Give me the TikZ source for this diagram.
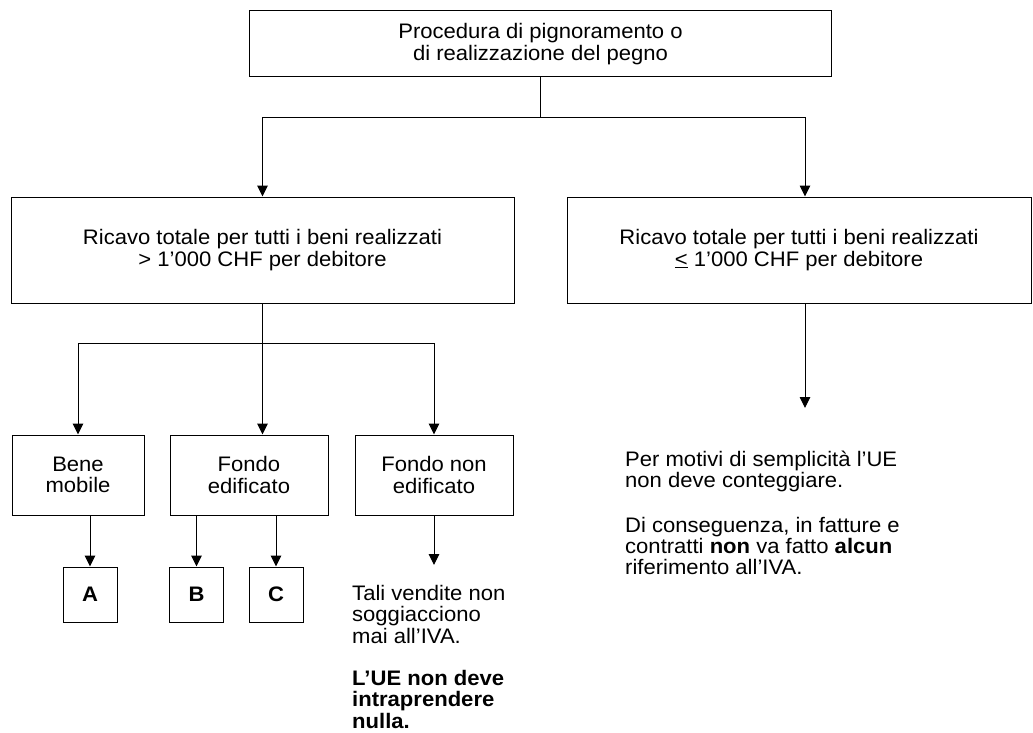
\documentclass[tikz,border=0pt]{standalone}
\usepackage{fontspec}
\setmainfont{Liberation Sans}[FakeStretch=1.05]
\usetikzlibrary{arrows.meta}

\begin{document}
\begin{tikzpicture}[x=1pt,y=-1pt,
    font=\fontsize{21}{21.3}\selectfont,
    box/.style={draw, line width=1pt, inner sep=0pt, align=center},
    letbox/.style={box, minimum width=54pt, minimum height=55pt, font=\fontsize{21}{21.3}\selectfont\bfseries},
    note/.style={inner sep=0pt, align=left, anchor=north west},
    arr/.style={line width=1pt, -{Triangle[width=10.5pt,length=11pt]}},
    lin/.style={line width=1pt}]
  \useasboundingbox (0,0) rectangle (1033,733);

  % top box
  \node[box, minimum width=582pt, minimum height=66pt] (proc) at (540.5,44)
    {Procedura di pignoramento o\\di realizzazione del pegno};

  % the two totals
  \node[box, minimum width=503pt, minimum height=106pt] (more) at (262.5,250)
    {Ricavo totale per tutti i beni realizzati\\> 1’000 CHF per debitore};
  \node[box, minimum width=464pt, minimum height=106pt] (less) at (799,250)
    {Ricavo totale per tutti i beni realizzati\\\underline{<} 1’000 CHF per debitore};

  % kinds of goods
  \node[box, minimum width=132pt, minimum height=80pt] (mob) at (78,475) {Bene\\mobile};
  \node[box, minimum width=158pt, minimum height=80pt] (edi) at (249,475) {Fondo\\edificato};
  \node[box, minimum width=158pt, minimum height=80pt] (ned) at (434,475) {Fondo non\\edificato};

  % letter boxes
  \foreach \n/\x in {A/90,B/196.5,C/276}
    \node[letbox] (\n) at (\x,594.5) {\n};

  % notes
  \node[note] (nulla) at (352,585)
    {Tali vendite non\\soggiacciono\\mai all’IVA.\\[21.3pt]
     \textbf{L’UE non deve}\\\textbf{intraprendere}\\\textbf{nulla.}};
  \node[note] (semp) at (625,451)
    {Per motivi di semplicità l’UE\\non deve conteggiare.\\[23pt]
     Di conseguenza, in fatture e\\contratti \textbf{non} va fatto \textbf{alcun}\\riferimento all’IVA.};

  % free ends
  \coordinate (nedend) at (434,565);
  \coordinate (lessend) at (805,408);

  % connectors from the top
  \draw[lin] (proc.south) -- ++(0,40) coordinate (split);
  \draw[arr] (split) -| (more.north);
  \draw[arr] (split) -| ([xshift=6pt]less.north);

  % connectors from the left total
  \draw[lin] (more.south) -- ++(0,40) coordinate (split2);
  \draw[arr] (split2) -| (mob.north);
  \draw[arr] (split2) -- (edi.north -| split2);
  \draw[arr] (split2) -| (ned.north);

  % down to the letters
  \foreach \n/\p in {A/mob,B/edi,C/edi}
    \draw[arr] (\n.north |- \p.south) -- (\n.north);
  \draw[arr] (ned.south) -- (nedend);
  \draw[arr] ([xshift=6pt]less.south) -- (lessend);
\end{tikzpicture}
\end{document}
